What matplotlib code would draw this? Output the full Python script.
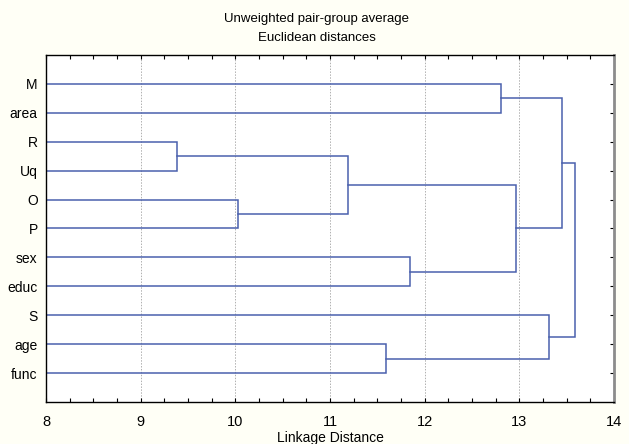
import numpy as np
import matplotlib
matplotlib.use("Agg")
import matplotlib.pyplot as plt
from matplotlib.ticker import MultipleLocator

plt.rcParams['font.family'] = ['Liberation Sans Narrow', 'Liberation Sans', 'DejaVu Sans']

# leaves, top to bottom
labels = ["M", "area", "R", "Uq", "O", "P", "sex", "educ", "S", "age", "func"]
# merges: (left id, right id, linkage distance); new cluster ids start at len(labels)
merge_left = [2, 4, 11, 9, 6, 0, 13, 8, 16, 19]
merge_right = [3, 5, 12, 10, 7, 1, 15, 14, 17, 18]
merge_height = [9.38, 10.03, 11.19, 11.59, 11.85, 12.81, 12.96, 13.31, 13.45, 13.59]

XMIN, XMAX = 8, 14
LINE = "#4a60ad"

fig = plt.figure(figsize=(6.29, 4.44), dpi=100, facecolor="#fffff6")
ax = fig.add_axes([46 / 629, 42 / 444, 568 / 629, 347 / 444])
ax.set_facecolor("white")

# node positions: (x, y)
pos = {i: (XMIN, i + 1) for i in range(len(labels))}
for k, (a, b, h) in enumerate(zip(merge_left, merge_right, merge_height)):
    xa, ya = pos[a]
    xb, yb = pos[b]
    ax.plot([xa, h, h, xb], [ya, ya, yb, yb], color=LINE, lw=1.1, solid_joinstyle="miter")
    pos[len(labels) + k] = (h, (ya + yb) / 2)

ax.set_xlim(XMIN, XMAX)
ax.set_ylim(len(labels) + 1, 0)
ax.set_yticks(np.arange(1, len(labels) + 1))
ax.set_yticklabels(labels, fontsize=10)
ax.xaxis.set_major_locator(MultipleLocator(1))
ax.xaxis.set_minor_locator(MultipleLocator(0.25))
ax.tick_params(axis="x", which="both", direction="in", top=True, bottom=True,
               length=3, width=0.8, labelsize=10.5, pad=9)
ax.tick_params(axis="y", left=False, right=True, direction="in", length=3, width=0.8, pad=6)
ax.grid(axis="x", which="major", color="#b0b0b0", ls=(0, (1.5, 1.5)), lw=0.7)
ax.set_axisbelow(True)

for s in ["left", "bottom", "top"]:
    ax.spines[s].set_color("black")
    ax.spines[s].set_linewidth(1.0)
ax.spines["right"].set_color("#8c8c8c")
ax.spines["right"].set_linewidth(2.0)

ax.set_xlabel("Linkage Distance", fontsize=10, labelpad=1.5)
fig.text(317 / 629, 1 - 19 / 444, "Unweighted pair-group average", ha="center", va="center", fontsize=9.5)
fig.text(317 / 629, 1 - 38 / 444, "Euclidean distances", ha="center", va="center", fontsize=9.5)

fig.savefig("out.png", dpi=100, facecolor=fig.get_facecolor())
